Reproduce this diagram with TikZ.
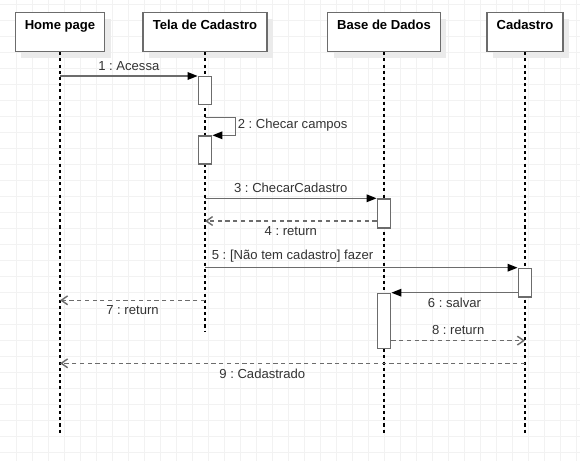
\documentclass[tikz,border=0pt]{standalone}
\usepackage{fontspec}
\setmainfont{Liberation Sans}
\usepackage{tikz}
\usetikzlibrary{arrows.meta,positioning,calc,shadows}
\definecolor{gridgray}{HTML}{F2F2F2}
\definecolor{boxgray}{HTML}{6C6C6C}
\definecolor{textgray}{HTML}{333333}
\frenchspacing

\begin{document}
\begin{tikzpicture}[
  x=0.025cm, y=-0.025cm,
  font=\fontsize{9.3}{11}\selectfont,
  gridline/.style={draw=gridgray, line width=0.7pt},
  lifebox/.style={draw=boxgray, fill=white, line width=1pt, anchor=north,
    minimum height=0.97cm, text height=0.425cm, text depth=0.54cm, inner ysep=0pt,
    font=\fontsize{9.3}{11}\selectfont\bfseries,
    drop shadow={shadow xshift=0.15cm, shadow yshift=-0.15cm, fill=black!8, opacity=1}},
  life/.style={draw=black, line width=0.75pt, dash pattern=on 2.2pt off 2.2pt},
  act/.style={draw=boxgray, fill=white, line width=1pt, anchor=north,
    minimum width=0.335cm, inner sep=0pt},
  msg/.style={draw=boxgray, line width=1pt,
    -{Triangle[length=0.25cm, width=0.19cm, color=black]}},
  ret/.style={draw=boxgray, line width=1pt, dash pattern=on 3pt off 2.5pt,
    -{Straight Barb[length=0.16cm, width=0.22cm]}},
  lbl/.style={text=textgray, inner xsep=1.5pt, inner ysep=3.5pt}
]
\useasboundingbox (0,0) rectangle (580,461);

% grid
\foreach \gx in {16,32,...,576}
  \draw[gridline] (\gx,0) -- (\gx,461);
\foreach \gy in {4.3,20.3,...,461}
  \draw[gridline] (0,\gy) -- (580,\gy);

% lifeline heads
\node[lifebox, minimum width=2.225cm] (home) at (60,12)  {Home page};
\node[lifebox, minimum width=3.1cm]   (tela) at (205,12) {Tela de Cadastro};
\node[lifebox, minimum width=2.81cm]  (base) at (384,12) {Base de Dados};
\node[lifebox, minimum width=1.89cm]  (cad)  at (525,12) {Cadastro};

\coordinate (homeEnd) at (60,432.5);
\coordinate (telaEnd) at (205,330.7);
\coordinate (baseEnd) at (384,432.5);
\coordinate (cadEnd)  at (525,432.5);
\draw[life] (home) -- (homeEnd);
\draw[life] (tela) -- (telaEnd);
\draw[life] (base) -- (baseEnd);
\draw[life] (cad)  -- (cadEnd);

% activations
\node[act, minimum height=0.7cm]   (a1) at (205,76)    {};
\node[act, minimum height=0.7cm]   (a2) at (205,135.3) {};
\node[act, minimum height=0.72cm]  (a3) at (384,198.3) {};
\node[act, minimum height=0.71cm]  (a4) at (525,267.7) {};
\node[act, minimum height=1.375cm] (a5) at (384,292.7) {};

% messages
\draw[msg] (home |- a1.north) -- (a1.north west)
  node[lbl, midway, above] {1 : Acessa};
\draw[msg] ($(a1.south)+(0,12)$) -| ($(a2.north east)+(23,0)$) -- (a2.north east);
\node[lbl, anchor=west] (l2) at ($(a2.north east)+(23,-10)$) {2 : Checar campos};
\draw[msg] (tela |- a3.north) -- (a3.north west)
  node[lbl, midway, above] {3 : ChecarCadastro};
\coordinate (r4) at ($(a3.south west)+(0,-7.5)$);
\draw[ret] (r4) -- (r4 -| tela)
  node[lbl, midway, below] {4 : return};
\draw[msg] (tela |- a4.north) -- (a4.north west)
  node[lbl, pos=0.28, above] {5 : [Não tem cadastro] fazer};
\draw[msg] (a4.west |- a5.north) -- (a5.north east)
  node[lbl, midway, below] {6 : salvar};
\coordinate (r7) at (205,300.3);
\draw[ret] (r7) -- (r7 -| home)
  node[lbl, midway, below] {7 : return};
\coordinate (r8) at ($(a5.south east)+(0,-8.5)$);
\draw[ret] (r8) -- (r8 -| cad)
  node[lbl, midway, above] {8 : return};
\coordinate (r9) at (525,363.3);
\draw[ret] (r9) -- (r9 -| home)
  node[lbl, pos=0.565, below] {9 : Cadastrado};
\end{tikzpicture}
\end{document}
